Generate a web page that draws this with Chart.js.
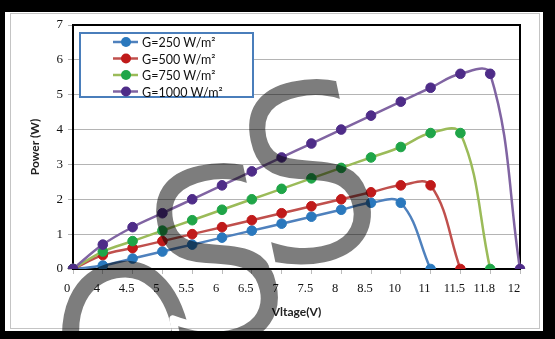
<!DOCTYPE html>
<html>
<head>
<meta charset="utf-8">
<script src="https://cdn.jsdelivr.net/npm/chart.js@4.4.0/dist/chart.umd.min.js"></script>
<style>
  html, body { margin: 0; padding: 0; background: #000; }
  #wrap { width: 555px; height: 339px; }
</style>
</head>
<body>
<div id="wrap"><canvas id="myChart" width="555" height="339"></canvas></div>
<script>
// voltage categories (x axis labels)
const voltages = ['0', '4', '4.5', '5', '5.5', '6', '6.5', '7', '7.5', '8', '8.5', '10', '11', '11.5', '11.8', '12'];

// power (W) for each irradiance level
const g250 = [0, 0.1, 0.3, 0.5, 0.7, 0.9, 1.1, 1.3, 1.5, 1.7, 1.9, 1.9, 0];
const g500 = [0, 0.4, 0.6, 0.8, 1.0, 1.2, 1.4, 1.6, 1.8, 2.0, 2.2, 2.4, 2.4, 0];
const g750 = [0, 0.5, 0.8, 1.1, 1.4, 1.7, 2.0, 2.3, 2.6, 2.9, 3.2, 3.5, 3.9, 3.9, 0];
const g1000 = [0, 0.7, 1.2, 1.6, 2.0, 2.4, 2.8, 3.2, 3.6, 4.0, 4.4, 4.8, 5.2, 5.6, 5.6, 0];

const seriesNames = ['G=250 W/m\u00B2', 'G=500 W/m\u00B2', 'G=750 W/m\u00B2', 'G=1000 W/m\u00B2'];
const lineColors = ['#4f81bd', '#c0504d', '#9bbb59', '#8064a2'];
const markerColors = ['#2a78bd', '#c01a1a', '#1fa548', '#4e2c88'];
const yTicks = [0, 1, 2, 3, 4, 5, 6, 7];

const seriesData = [g250, g500, g750, g1000];

// black frame with white inner panel
const framePlugin = {
  id: 'frame',
  beforeDraw(chart) {
    const ctx = chart.ctx;
    ctx.save();
    ctx.fillStyle = '#000';
    ctx.fillRect(0, 0, 555, 339);
    ctx.fillStyle = '#fff';
    ctx.fillRect(5, 12, 538, 319);
    ctx.strokeStyle = '#c4c4c4';
    ctx.lineWidth = 1;
    ctx.strokeRect(10.5, 13.5, 529, 315);
    ctx.restore();
  },
  beforeDatasetsDraw(chart) {
    const { ctx, chartArea } = chart;
    ctx.save();
    ctx.strokeStyle = '#000';
    ctx.lineWidth = 2;
    ctx.strokeRect(chartArea.left, chartArea.top, chartArea.right - chartArea.left, chartArea.bottom - chartArea.top);
    ctx.restore();
  }
};

// legend box inside the plot
const boxLegend = {
  id: 'boxLegend',
  afterDatasetsDraw(chart) {
    const ctx = chart.ctx;
    ctx.save();
    ctx.fillStyle = '#fff';
    ctx.fillRect(80, 33, 173, 64);
    ctx.strokeStyle = '#4a7ebb';
    ctx.lineWidth = 2;
    ctx.strokeRect(80, 33, 173, 64);
    ctx.font = '12.5px Lato';
    ctx.textBaseline = 'middle';
    seriesNames.forEach((name, i) => {
      const y = 42 + i * 16.5;
      ctx.strokeStyle = lineColors[i];
      ctx.lineWidth = 2.5;
      ctx.beginPath();
      ctx.moveTo(113, y);
      ctx.lineTo(138, y);
      ctx.stroke();
      ctx.fillStyle = markerColors[i];
      ctx.beginPath();
      ctx.arc(126, y, 5, 0, Math.PI * 2);
      ctx.fill();
      ctx.fillStyle = '#111';
      ctx.fillText(name, 142, y + 1);
    });
    ctx.restore();
  }
};

// grey watermark letters (e, s, s) multiplied over the chart
const watermark = {
  id: 'watermark',
  afterDraw(chart) {
    const ctx = chart.ctx;
    const letters = [['e', 130, 362], ['s', 218, 265], ['s', 311, 181]];
    const off = document.createElement('canvas');
    off.width = 555;
    off.height = 339;
    const oc = off.getContext('2d');
    oc.fillStyle = '#fff';
    oc.fillRect(0, 0, 555, 339);
    oc.font = '335px "DejaVu Sans"';
    oc.textAlign = 'center';
    oc.textBaseline = 'alphabetic';
    oc.lineJoin = 'round';
    letters.forEach(([ch, x, y]) => {
      oc.save();
      oc.translate(x, y);
      oc.rotate(-12 * Math.PI / 180);
      oc.scale(0.8, 1);
      oc.fillStyle = '#7d7d7d';
      oc.fillText(ch, 0, 82);
      // thin the strokes a little
      oc.strokeStyle = '#fff';
      oc.lineWidth = 9;
      oc.strokeText(ch, 0, 82);
      oc.restore();
    });
    ctx.save();
    ctx.globalCompositeOperation = 'multiply';
    ctx.drawImage(off, 0, 0);
    ctx.restore();
  }
};

const datasets = seriesData.map((d, i) => ({
  label: seriesNames[i],
  data: d,
  borderColor: lineColors[i],
  backgroundColor: markerColors[i],
  pointBackgroundColor: markerColors[i],
  pointBorderColor: markerColors[i],
  pointBorderWidth: 1,
  pointRadius: 4.8,
  borderWidth: 2.5,
  tension: 0.4,
  fill: false,
  order: 3 - i
}));

new Chart(document.getElementById('myChart'), {
  type: 'line',
  data: { labels: voltages, datasets: datasets },
  options: {
    responsive: false,
    animation: false,
    events: [],
    layout: { padding: { left: 0, right: 35, top: 25, bottom: 0 } },
    plugins: {
      legend: { display: false },
      tooltip: { enabled: false }
    },
    scales: {
      x: {
        type: 'category',
        offset: false,
        afterFit: (s) => { s.height = 70; },
        border: { color: '#000', width: 2 },
        grid: { drawOnChartArea: false, drawTicks: true, tickLength: 5, color: '#bbb' },
        ticks: {
          autoSkip: false,
          maxRotation: 0,
          padding: 7,
          labelOffset: -6,
          color: '#111',
          font: { family: '"Liberation Serif"', size: 12.5 }
        },
        title: {
          display: true,
          text: 'Vltage(V)',
          color: '#222',
          font: { family: 'Lato', size: 12, weight: 'bold' },
          padding: { top: 0, bottom: 20 }
        }
      },
      y: {
        min: 0,
        max: 7,
        afterFit: (s) => { s.width = 73; },
        afterBuildTicks: (s) => { s.ticks = yTicks.map(v => ({ value: v })); },
        border: { color: '#000', width: 2 },
        grid: { color: '#b4b4b4', lineWidth: 1, tickLength: 5 },
        ticks: {
          padding: 5,
          color: '#111',
          font: { family: '"Liberation Serif"', size: 13 }
        },
        title: {
          display: true,
          text: 'Power (W)',
          color: '#222',
          font: { family: 'Lato', size: 12, weight: 'bold' },
          padding: { top: 28, bottom: 0 }
        }
      }
    }
  },
  plugins: [framePlugin, boxLegend, watermark]
});
</script>
</body>
</html>
